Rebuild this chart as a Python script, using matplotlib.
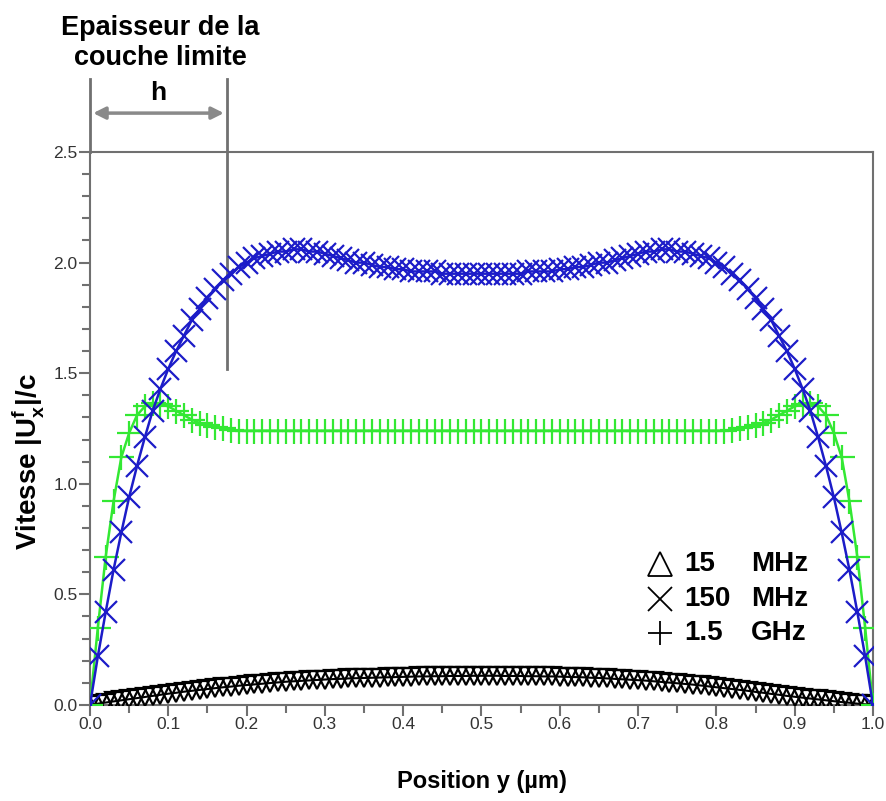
import numpy as np
import matplotlib.pyplot as plt
from matplotlib.ticker import MultipleLocator

plt.rcParams['font.family'] = ['Liberation Sans', 'DejaVu Sans']
plt.rcParams['mathtext.fontset'] = 'custom'
plt.rcParams['mathtext.rm'] = 'Liberation Sans:bold'
plt.rcParams['mathtext.bf'] = 'Liberation Sans:bold'

# position y (µm), 101 points
pos_y = np.linspace(0, 1, 101)

# 150 MHz
v_150mhz = [
    0.00, 0.22, 0.42, 0.61, 0.78, 0.94, 1.08, 1.21, 1.33, 1.43,
    1.52, 1.60, 1.67, 1.74, 1.79, 1.84, 1.88, 1.92, 1.95, 1.98,
    2.00, 2.02, 2.03, 2.04, 2.05, 2.05, 2.06, 2.06, 2.05, 2.05,
    2.04, 2.03, 2.02, 2.01, 2.00, 2.00, 1.99, 1.98, 1.98, 1.97,
    1.97, 1.96, 1.96, 1.96, 1.96, 1.95, 1.95, 1.95, 1.95, 1.95,
    1.95,
    1.95, 1.95, 1.95, 1.95, 1.95, 1.96, 1.96, 1.96, 1.96, 1.97,
    1.97, 1.98, 1.98, 1.99, 2.00, 2.00, 2.01, 2.02, 2.03, 2.04,
    2.05, 2.05, 2.06, 2.06, 2.05, 2.05, 2.04, 2.03, 2.02, 2.00,
    1.98, 1.95, 1.92, 1.88, 1.84, 1.79, 1.74, 1.67, 1.60, 1.52,
    1.43, 1.33, 1.21, 1.08, 0.94, 0.78, 0.61, 0.42, 0.22, 0.00,
]

# 1.5 GHz
v_15ghz = [
    0.00, 0.35, 0.67, 0.92, 1.12, 1.23, 1.31, 1.35, 1.365, 1.36,
    1.35, 1.33, 1.31, 1.29, 1.275, 1.265, 1.255, 1.25, 1.245, 1.24,
    1.24, 1.24, 1.24, 1.24, 1.24, 1.24, 1.24, 1.24, 1.24, 1.24,
    1.24, 1.24, 1.24, 1.24, 1.24, 1.24, 1.24, 1.24, 1.24, 1.24,
    1.24, 1.24, 1.24, 1.24, 1.24, 1.24, 1.24, 1.24, 1.24, 1.24,
    1.24,
    1.24, 1.24, 1.24, 1.24, 1.24, 1.24, 1.24, 1.24, 1.24, 1.24,
    1.24, 1.24, 1.24, 1.24, 1.24, 1.24, 1.24, 1.24, 1.24, 1.24,
    1.24, 1.24, 1.24, 1.24, 1.24, 1.24, 1.24, 1.24, 1.24, 1.24,
    1.24, 1.245, 1.25, 1.255, 1.265, 1.275, 1.29, 1.31, 1.33, 1.35,
    1.36, 1.365, 1.35, 1.31, 1.23, 1.12, 0.92, 0.67, 0.35, 0.00,
]

# 15 MHz
v_15mhz = [
    0.000, 0.006, 0.011, 0.016, 0.021, 0.026, 0.031, 0.036, 0.041, 0.046,
    0.051, 0.055, 0.060, 0.064, 0.068, 0.072, 0.076, 0.080, 0.083, 0.087,
    0.090, 0.093, 0.096, 0.099, 0.102, 0.105, 0.107, 0.109, 0.111, 0.113,
    0.115, 0.117, 0.118, 0.120, 0.121, 0.122, 0.123, 0.124, 0.125, 0.126,
    0.127, 0.128, 0.129, 0.129, 0.130, 0.130, 0.131, 0.131, 0.131, 0.132,
    0.132, 0.132, 0.132, 0.131, 0.131, 0.131, 0.130, 0.130, 0.129, 0.129,
    0.128, 0.127, 0.126, 0.125, 0.123, 0.122, 0.120, 0.118, 0.116, 0.114,
    0.112, 0.110, 0.107, 0.104, 0.101, 0.098, 0.095, 0.092, 0.088, 0.084,
    0.080, 0.076, 0.072, 0.068, 0.064, 0.059, 0.055, 0.050, 0.046, 0.041,
    0.037, 0.033, 0.029, 0.025, 0.021, 0.017, 0.013, 0.010, 0.006, 0.003,
    0.000,
]

h_edge = 0.175  # épaisseur de la couche limite

blue = '#1c1cc8'
green = '#33e833'
grey = '#707070'

fig = plt.figure(figsize=(8.86, 8.01), dpi=100)
ax = fig.add_axes([0.1016, 0.1199, 0.8837, 0.6903])

ax.plot(pos_y, v_15mhz, color='black', lw=1.5, marker='v', ms=13,
        mfc='none', mec='black', mew=1.6, zorder=3)
ax.plot(pos_y, v_15ghz, color=green, lw=1.8, marker='+', ms=18,
        mec=green, mew=1.6, zorder=4)
ax.plot(pos_y, v_150mhz, color=blue, lw=1.8, marker='x', ms=16,
        mec=blue, mew=1.6, zorder=5)

ax.set_xlim(0, 1)
ax.set_ylim(0, 2.5)
ax.xaxis.set_major_locator(MultipleLocator(0.1))
ax.xaxis.set_minor_locator(MultipleLocator(0.05))
ax.yaxis.set_major_locator(MultipleLocator(0.5))
ax.yaxis.set_minor_locator(MultipleLocator(0.1))
ax.tick_params(which='both', direction='out', color=grey, width=1.5,
               labelsize=12.5, labelcolor='#333333', pad=1)
ax.tick_params(which='major', length=8)
ax.tick_params(which='minor', length=6)
for s in ax.spines.values():
    s.set_color(grey)
    s.set_linewidth(1.5)

# boundary layer annotation
ax.plot([0, 0], [2.5, 2.83], color=grey, lw=2, clip_on=False)
ax.plot([h_edge, h_edge], [1.52, 2.83], color=grey, lw=2, clip_on=False, zorder=2)
ax.annotate('', xy=(0.004, 2.676), xytext=(h_edge - 0.004, 2.676),
            arrowprops=dict(arrowstyle='<|-|>', color='#8a8a8a', lw=2.5,
                            mutation_scale=18, shrinkA=0, shrinkB=0),
            annotation_clip=False)
fig.text(160 / 886, 1 - 43 / 801, 'Epaisseur de la\ncouche limite',
         ha='center', va='center', fontsize=19.5, fontweight='bold',
         linespacing=1.2)
fig.text(158 / 886, 1 - 93 / 801, 'h', ha='center', va='center',
         fontsize=19, fontweight='bold')

ax.set_xlabel('Position y (µm)', fontsize=17, fontweight='bold', labelpad=27)
fig.text(28 / 886, 1 - 462 / 801, r'Vitesse |U$^\mathbf{f}_\mathbf{x}$|/c',
         rotation=90, ha='center', va='center', fontsize=20, fontweight='bold')

# legend
leg_rows = [(564, 'v', '15', 'MHz'), (599, 'x', '150', 'MHz'), (633, '+', '1.5', 'GHz')]
for ypx, mk, num, unit in leg_rows:
    yf = 1 - ypx / 801
    mk_draw = '^' if mk == 'v' else mk
    fig.add_artist(plt.Line2D([660 / 886], [yf], marker=mk_draw, ms=17,
                              mfc='none', mec='black', mew=1.3,
                              transform=fig.transFigure))
    fig.text(684 / 886, yf, num, ha='left', va='center', fontsize=20,
             fontweight='bold')
    fig.text(751 / 886, yf, unit, ha='left', va='center', fontsize=20,
             fontweight='bold')

fig.savefig('out.png', dpi=100)
